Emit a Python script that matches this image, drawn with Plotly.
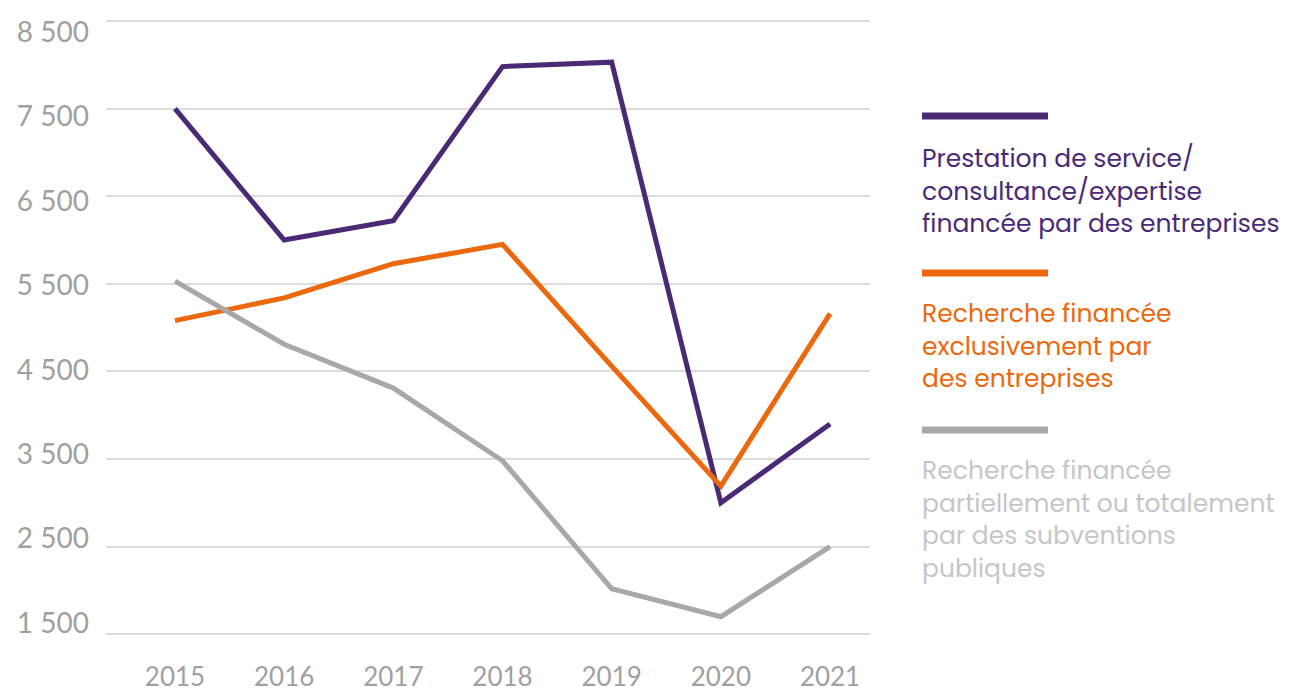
import plotly.graph_objects as go

years = ["2015", "2016", "2017", "2018", "2019", "2020", "2021"]
prestation = [7500, 6000, 6220, 7980, 8030, 3000, 3900]
recherche_entreprises = [5080, 5340, 5730, 5950, 4560, 3190, 5160]
recherche_subventions = [5530, 4810, 4310, 3480, 2020, 1700, 2500]

series_names = [
    "Prestation de service/<br>consultance/expertise<br>financée par des entreprises",
    "Recherche financée<br>exclusivement par<br>des entreprises",
    "Recherche financée<br>partiellement ou totalement<br>par des subventions<br>publiques",
]
line_colors = ["#4A2A75", "#EB680C", "#A8A8A8"]
text_colors = ["#4A2A75", "#EB680C", "#C6C6C6"]

y_tickvals = [1500, 2500, 3500, 4500, 5500, 6500, 7500, 8500]
y_ticktext = ["1 500", "2 500", "3 500", "4 500", "5 500", "6 500", "7 500", "8 500"]

# page has an 8px body margin: figure is drawn at (8, 8)
OFF = 8
W, H = 1304 - OFF, 693 - OFF
L, R, T, B = 106 - OFF, 434, 12 - OFF, 50
PW, PH = W - L - R, H - T - B

def px(x):
    return (x - OFF - L) / PW

def py(y):
    return (H - B - (y - OFF)) / PH

fig = go.Figure()
for vals, name, col in zip([prestation, recherche_entreprises, recherche_subventions], series_names, line_colors):
    fig.add_trace(go.Scatter(x=list(range(len(years))), y=vals, mode="lines", name=name,
                             line=dict(color=col, width=5), showlegend=False))

# invisible trace so the label axis is drawn
fig.add_trace(go.Scatter(x=[0], y=[5000], yaxis="y2", mode="markers",
                         marker=dict(opacity=0), showlegend=False, hoverinfo="skip"))

fig.update_layout(
    width=W, height=H,
    margin=dict(l=L, r=R, t=T, b=B, autoexpand=False),
    paper_bgcolor="white", plot_bgcolor="white",
    xaxis=dict(
        range=[-0.632, 6.366], tickvals=list(range(len(years))), ticktext=years,
        showgrid=False, zeroline=False, showline=False, ticks="",
        tickfont=dict(family="Lato", size=26, color="#A0A0A0"),
        ticklabelstandoff=16,
    ),
    yaxis=dict(
        range=[1400, 8603], tickvals=y_tickvals, showticklabels=False,
        showgrid=True, gridcolor="#DCDCDC", gridwidth=1.5, zeroline=False, showline=False, ticks="",
    ),
    yaxis2=dict(
        range=[1263, 8737], tickvals=y_tickvals, ticktext=y_ticktext, overlaying="y", side="left",
        showgrid=False, zeroline=False, showline=False, ticks="",
        tickfont=dict(family="Lato", size=28, color="#A0A0A0"),
        ticklabelstandoff=16,
    ),
)

swatch_y = [116, 273, 430]
text_top = [139, 294, 451]
for name, lc, tc, sy, ty in zip(series_names, line_colors, text_colors, swatch_y, text_top):
    fig.add_shape(type="line", xref="paper", yref="paper", x0=px(922), x1=px(1048), y0=py(sy), y1=py(sy),
                  line=dict(color=lc, width=7))
    fig.add_annotation(xref="paper", yref="paper", x=px(920), y=py(ty), xanchor="left", yanchor="top",
                       text=name, showarrow=False, align="left",
                       font=dict(family="Poppins, Inter", size=25, color=tc))

fig.write_html("out.html")
